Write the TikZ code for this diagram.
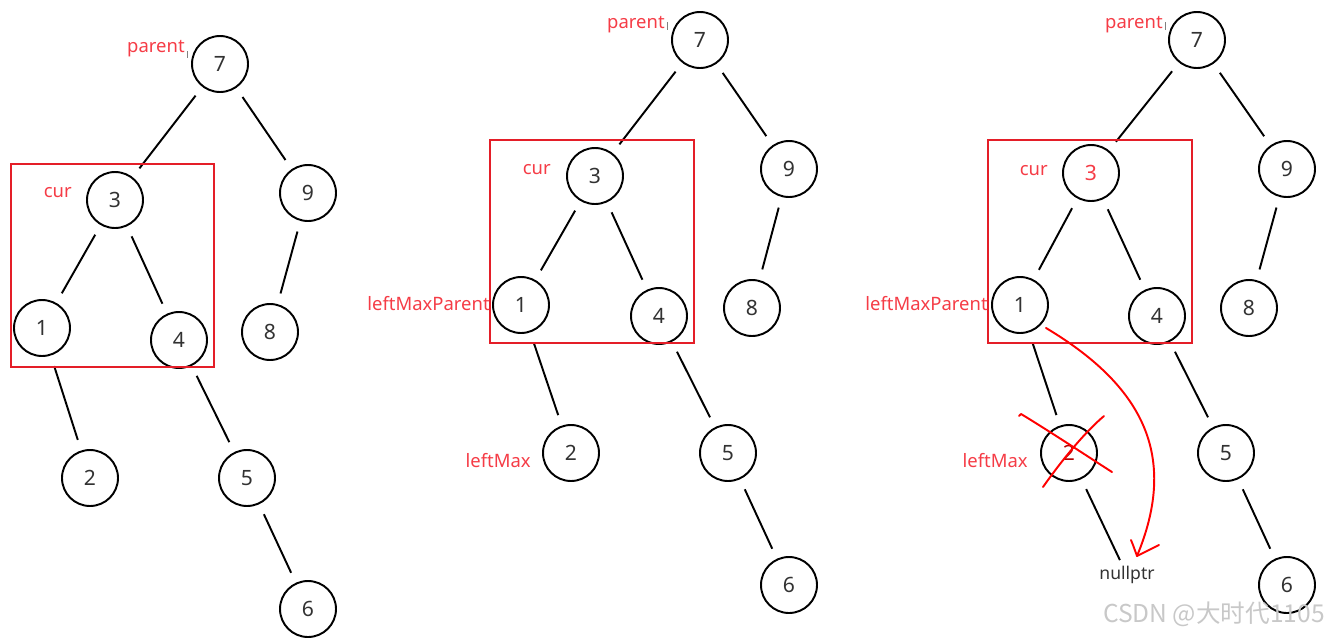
\documentclass[tikz,border=0pt]{standalone}
\usepackage{fontspec}
\setmainfont{Noto Sans}
\newfontfamily\cjkfont{Noto Sans CJK SC}
\definecolor{lblred}{RGB}{245,60,70}
\definecolor{boxred}{RGB}{228,30,40}
\definecolor{numgray}{RGB}{50,50,50}
\definecolor{wmgray}{RGB}{200,200,200}
\begin{document}
\begin{tikzpicture}[x=0.02cm,y=-0.02cm,
  tn/.style={circle,draw=black,line width=1.1pt,minimum size=1.12cm,inner sep=0pt,font=\fontsize{12}{12}\selectfont,text=numgray},
  edge/.style={line width=1.1pt,shorten >=0.22cm,shorten <=0.22cm},
  lbl/.style={font=\fontsize{10.5}{10.5}\selectfont,text=lblred,inner sep=0pt},
  rbox/.style={draw=boxred,line width=1.2pt},
  redpen/.style={draw=red,line width=1.1pt,line cap=round,line join=round}]
\useasboundingbox (0,0) rectangle (1329,640);
% ---------- tree 1 ----------
\node[tn] (a7) at (220,64) {7};
\node[tn] (a3) at (115,200) {3};
\node[tn] (a9) at (308,193) {9};
\node[tn] (a1) at (42,328) {1};
\node[tn] (a4) at (179,340) {4};
\node[tn] (a8) at (270,332) {8};
\node[tn] (a2) at (90,478) {2};
\node[tn] (a5) at (247,478) {5};
\node[tn] (a6) at (308,609) {6};
\foreach \u/\v in {a7/a3,a7/a9,a3/a1,a3/a4,a9/a8,a1/a2,a4/a5,a5/a6}
  \draw[edge] (\u) -- (\v);
\draw[rbox] (11,164) rectangle (214,367);
\node[lbl,anchor=east] (pa) at (185,49) {parent};
\node[lbl,anchor=east] (ca) at (72,193) {cur};
% ---------- tree 2 ----------
\node[tn] (b7) at (700,40) {7};
\node[tn] (b3) at (595,176) {3};
\node[tn] (b9) at (789,169) {9};
\node[tn] (b1) at (521,305) {1};
\node[tn] (b4) at (659,316) {4};
\node[tn] (b8) at (752,308) {8};
\node[tn] (b2) at (571,453) {2};
\node[tn] (b5) at (728,453) {5};
\node[tn] (b6) at (789,585) {6};
\foreach \u/\v in {b7/b3,b7/b9,b3/b1,b3/b4,b9/b8,b1/b2,b4/b5,b5/b6}
  \draw[edge] (\u) -- (\v);
\draw[rbox] (490,140) rectangle (694,343);
\node[lbl,anchor=east] (pb) at (665,25) {parent};
\node[lbl,anchor=east] (cb) at (551,170) {cur};
\node[lbl,anchor=east] (lmpb) at (490,304) {leftMaxParent};
\node[lbl,anchor=east] (lmb) at (531,461) {leftMax};
% ---------- tree 3 ----------
\node[tn] (c7) at (1197,40) {7};
\node[tn,text=lblred] (c3) at (1091,173) {3};
\node[tn] (c9) at (1287,169) {9};
\node[tn] (c1) at (1020,305) {1};
\node[tn] (c4) at (1157,316) {4};
\node[tn] (c8) at (1249,308) {8};
\node[tn,text=red!70!black] (c2) at (1069,453) {2};
\node[tn] (c5) at (1226,453) {5};
\node[tn] (c6) at (1287,585) {6};
\foreach \u/\v in {c7/c3,c7/c9,c3/c1,c3/c4,c9/c8,c1/c2,c4/c5,c5/c6}
  \draw[edge] (\u) -- (\v);
\node[font=\fontsize{10}{10}\selectfont,text=numgray,inner sep=2pt] (np) at (1127,575) {nullptr};
\draw[line width=1.1pt,shorten <=0.22cm,shorten >=0.05cm] (c2) -- (np);
\draw[rbox] (988,140) rectangle (1192,343);
\node[lbl,anchor=east] (pc) at (1163,25) {parent};
\node[lbl,anchor=east] (cc) at (1048,171) {cur};
\node[lbl,anchor=east] (lmpc) at (988,304) {leftMaxParent};
\node[lbl,anchor=east] (lmc) at (1028,461) {leftMax};
% red cross
\draw[redpen] (1019,416) -- (1021,414) -- (1026,417) .. controls (1060,438) and (1090,458) .. (1112,472);
\draw[redpen] (1104,416) .. controls (1085,432) and (1062,460) .. (1043,487);
% red arrow
\coordinate (arrs) at (1046,328);
\coordinate (arrt) at (1137,556);
\draw[redpen] (arrs) .. controls (1150,390) and (1176,462) .. (arrt);
\draw[redpen] (1131,540) -- (1133,545) -- (arrt) -- (1159,545);
% cursor ticks
\draw[gray,line width=0.5pt] (187,51) -- (187,58);
\draw[gray,line width=0.5pt] (667,22) -- (667,30);
\draw[gray,line width=0.5pt] (1165,22) -- (1165,30);
% watermark
\node[font=\cjkfont\fontsize{14}{14}\selectfont,text=wmgray,anchor=east,inner sep=0pt] (wm) at (1325,614) {CSDN @大时代1105};
\end{tikzpicture}
\end{document}
